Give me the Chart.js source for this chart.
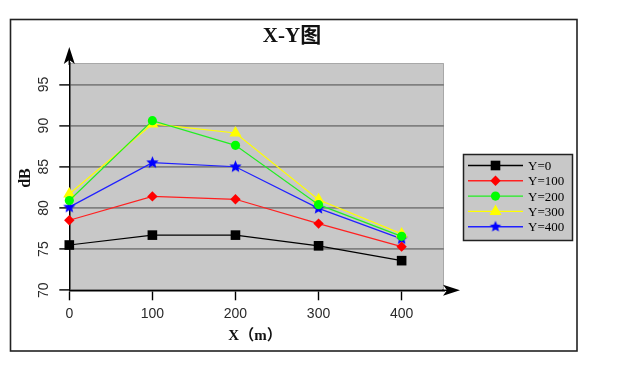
<!DOCTYPE html>
<html>
<head>
<meta charset="utf-8">
<script src="https://cdn.jsdelivr.net/npm/chart.js@4"></script>
<style>
html,body{margin:0;padding:0;background:#fff;}
#wrap{width:634px;height:378px;position:relative;}
</style>
</head>
<body>
<div id="wrap"><canvas id="c" width="634" height="378"></canvas></div>
<script>
// ---- data ----
const categories = [0, 100, 200, 300, 400];
const xTickLabels = ['0', '100', '200', '300', '400'];
const yTickLabels = [70, 75, 80, 85, 90, 95];
const seriesNames = ['Y=0', 'Y=100', 'Y=200', 'Y=300', 'Y=400'];
const valuesY0   = [75.5, 76.7, 76.7, 75.4, 73.6];
const valuesY100 = [78.5, 81.4, 81.05, 78.1, 75.3];
const valuesY200 = [80.9, 90.6, 87.6, 80.4, 76.55];
const valuesY300 = [81.7, 90.2, 89.1, 81.0, 76.85];
const valuesY400 = [80.1, 85.5, 85.0, 79.95, 76.25];
const titleText = 'X-Y图';
const xTitle = 'X（m）';
const yTitle = 'dB';

// star marker
function makeStar(color, r) {
  const c = document.createElement('canvas');
  const s = Math.ceil(r * 2 + 2);
  c.width = s; c.height = s;
  const g = c.getContext('2d');
  g.fillStyle = color;
  g.beginPath();
  for (let i = 0; i < 10; i++) {
    const rr = i % 2 === 0 ? r : r * 0.45;
    const a = -Math.PI / 2 + i * Math.PI / 5;
    const px = s / 2 + rr * Math.cos(a), py = s / 2 + rr * Math.sin(a);
    if (i === 0) g.moveTo(px, py); else g.lineTo(px, py);
  }
  g.closePath(); g.fill();
  return c;
}
const starBig = makeStar('#0000ff', 6.5);
const starSmall = makeStar('#0000ff', 6);

const allValues = [valuesY0, valuesY100, valuesY200, valuesY300, valuesY400];
const lineColors = ['#000000', '#ff2020', '#22ee22', '#ffff00', '#2020ff'];
const markColors = ['#000000', '#ff0000', '#00ff00', '#ffff00', '#0000ff'];
const styles = ['rect', 'rectRot', 'circle', 'triangle', starBig];
const radii = [6.8, 5.2, 4.6, 7, 6];

const datasets = allValues.map((vals, i) => ({
  label: seriesNames[i],
  data: categories.map((x, j) => ({x: x, y: vals[j]})),
  borderColor: lineColors[i],
  backgroundColor: markColors[i],
  pointBackgroundColor: markColors[i],
  pointBorderColor: markColors[i],
  pointBorderWidth: 0,
  pointStyle: styles[i],
  pointRadius: radii[i],
  borderWidth: 1.2,
  tension: 0,
  clip: false
}));

const SANS = '"Liberation Sans", Arial, sans-serif';
const SERIF = '"Liberation Serif", "DejaVu Serif", "Noto Sans CJK SC", serif';

const decor = {
  id: 'decor',
  beforeDraw(chart) {
    const {ctx, chartArea: a} = chart;
    ctx.save();
    ctx.fillStyle = '#fff';
    ctx.fillRect(0, 0, chart.width, chart.height);
    // outer frame
    ctx.strokeStyle = '#222';
    ctx.lineWidth = 1.6;
    ctx.strokeRect(10.5, 19.5, 566.5, 331.5);
    // plot background
    ctx.fillStyle = '#c8c8c8';
    ctx.fillRect(a.left, a.top, a.right - a.left, a.bottom - a.top);
    ctx.strokeStyle = '#a8a8a8';
    ctx.lineWidth = 1;
    ctx.beginPath();
    ctx.moveTo(a.left, a.top + 0.5); ctx.lineTo(a.right - 0.5, a.top + 0.5); ctx.lineTo(a.right - 0.5, a.bottom);
    ctx.stroke();
    ctx.restore();
  },
  afterDraw(chart) {
    const {ctx, chartArea: a} = chart;
    const ys = chart.scales.y;
    ctx.save();
    // arrows
    ctx.fillStyle = '#000';
    const ax = a.left;
    ctx.beginPath();
    ctx.moveTo(ax, a.top - 16); ctx.lineTo(ax + 5.5, a.top + 1); ctx.lineTo(ax, a.top - 3); ctx.lineTo(ax - 5.5, a.top + 1);
    ctx.closePath(); ctx.fill();
    const by = a.bottom;
    ctx.beginPath();
    ctx.moveTo(a.right + 16, by); ctx.lineTo(a.right - 1, by - 5.5); ctx.lineTo(a.right + 3, by); ctx.lineTo(a.right - 1, by + 5.5);
    ctx.closePath(); ctx.fill();
    ctx.lineWidth = 1.5; ctx.strokeStyle = '#000';
    ctx.beginPath(); ctx.moveTo(a.right - 2, by); ctx.lineTo(a.right + 4, by); ctx.stroke();
    ctx.beginPath(); ctx.moveTo(ax, a.top + 2); ctx.lineTo(ax, a.top - 4); ctx.stroke();

    // y tick labels rotated
    ctx.fillStyle = '#2a2a2a';
    ctx.font = '14px ' + SANS;
    ctx.textAlign = 'center';
    ctx.textBaseline = 'middle';
    yTickLabels.forEach(v => {
      const py = ys.getPixelForValue(v);
      ctx.save();
      ctx.translate(44, py);
      ctx.rotate(-Math.PI / 2);
      ctx.fillText(String(v), 0, 0);
      ctx.restore();
    });

    // titles
    ctx.fillStyle = '#111';
    ctx.font = 'bold 21px ' + SERIF;
    ctx.fillText(titleText, 292, 37);
    ctx.font = 'bold 15px ' + SERIF;
    ctx.fillText(xTitle, 255, 336);
    ctx.font = 'bold 16px ' + SERIF;
    ctx.save();
    ctx.translate(26, 178);
    ctx.rotate(-Math.PI / 2);
    ctx.fillText(yTitle, 0, 0);
    ctx.restore();

    // legend
    const L = {x: 463.5, y: 154.5, w: 109, h: 86};
    ctx.fillStyle = '#c8c8c8';
    ctx.fillRect(L.x, L.y, L.w, L.h);
    ctx.strokeStyle = '#222';
    ctx.lineWidth = 1.5;
    ctx.strokeRect(L.x, L.y, L.w, L.h);
    ctx.font = '13px ' + SERIF;
    ctx.textAlign = 'left';
    chart.data.datasets.forEach((ds, i) => {
      const ry = 165.5 + i * 15.3;
      ctx.strokeStyle = ds.borderColor;
      ctx.lineWidth = 1.4;
      ctx.beginPath(); ctx.moveTo(468, ry); ctx.lineTo(523, ry); ctx.stroke();
      const st = (ds.pointStyle === starBig) ? starSmall : ds.pointStyle;
      ctx.fillStyle = ds.pointBackgroundColor;
      ctx.strokeStyle = ds.pointBorderColor;
      Chart.helpers.drawPoint(ctx, {pointStyle: st, rotation: 0, borderWidth: 0, radius: ds.pointRadius}, 495.5, ry);
      ctx.fillStyle = '#000';
      ctx.fillText(ds.label, 528, ry + 1);
    });
    ctx.restore();
  }
};

new Chart(document.getElementById('c'), {
  type: 'line',
  data: {datasets: datasets},
  options: {
    responsive: false,
    animation: false,
    events: [],
    layout: {padding: {left: 0, right: 190, top: 63, bottom: 0}},
    plugins: {legend: {display: false}, tooltip: {enabled: false}, title: {display: false}},
    scales: {
      x: {
        type: 'linear',
        min: 0, max: 451,
        afterFit(s) { s.height = 378 - 290.3; },
        afterBuildTicks(s) { s.ticks = categories.map(v => ({value: v})); },
        ticks: {
          callback: (v) => { const k = categories.indexOf(v); return k >= 0 ? xTickLabels[k] : ''; },
          color: '#2a2a2a', font: {family: SANS, size: 14}, padding: 5, maxRotation: 0, autoSkip: false
        },
        grid: {drawOnChartArea: false, drawTicks: true, tickLength: 10, tickColor: '#000', tickWidth: 1.4},
        border: {display: true, color: '#000', width: 1.5}
      },
      y: {
        type: 'linear',
        min: 70, max: 97.6,
        afterFit(s) { s.width = 69.3; },
        afterBuildTicks(s) { s.ticks = yTickLabels.map(v => ({value: v})); },
        ticks: {display: false},
        grid: {color: '#808080', lineWidth: 1.8, drawTicks: true, tickLength: 10, tickColor: '#000', tickWidth: 1.4},
        border: {display: true, color: '#000', width: 1.5}
      }
    }
  },
  plugins: [decor]
});
</script>
</body>
</html>
